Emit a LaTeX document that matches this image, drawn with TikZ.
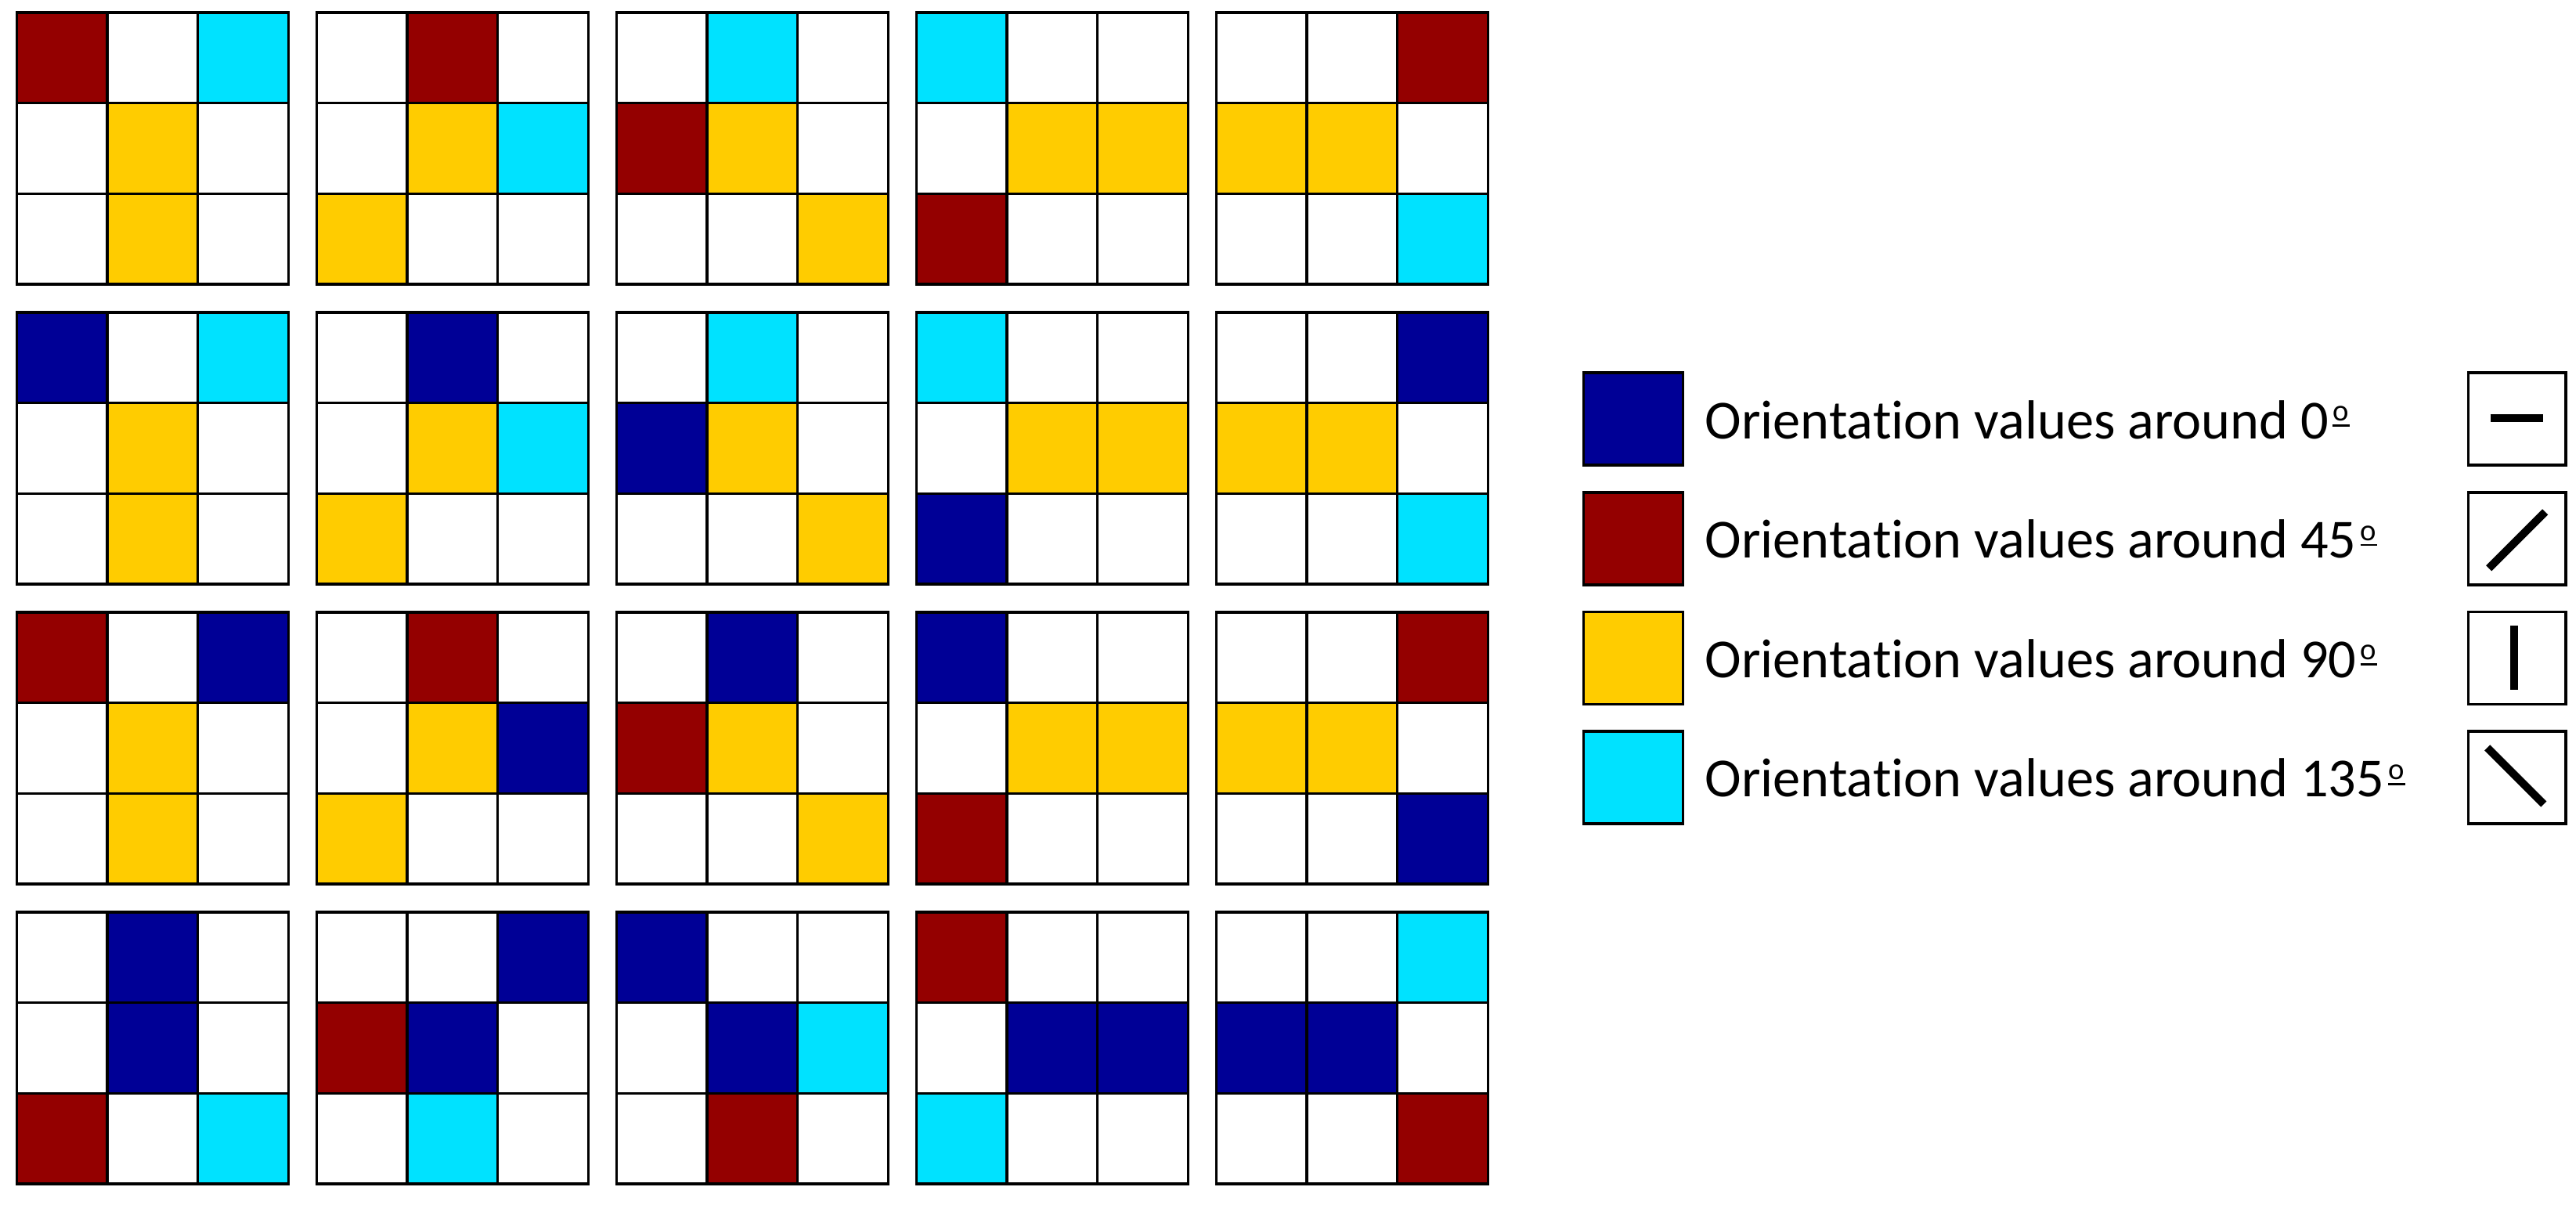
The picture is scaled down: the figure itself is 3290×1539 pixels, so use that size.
\documentclass[tikz,border=0pt]{standalone}
\usepackage{fontspec}
\setmainfont[Ligatures=NoCommon]{Carlito}
\definecolor{cR}{RGB}{148,0,0}
\definecolor{cB}{RGB}{0,0,150}
\definecolor{cY}{RGB}{255,204,0}
\definecolor{cC}{RGB}{0,226,255}
\definecolor{cW}{RGB}{255,255,255}
\newcommand\ordm{\kern0.07em\rlap{\rule[4.3pt]{6.2pt}{0.8pt}}\raisebox{6.4pt}{\fontsize{11}{11}\selectfont o}}
\begin{document}
\begin{tikzpicture}[x=0.01cm,y=-0.01cm,
  cell/.style={rectangle,draw=black,line width=0.035cm,minimum width=1.157cm,minimum height=1.157cm,inner sep=0pt,outer sep=0pt},
  legsq/.style={rectangle,draw=black,line width=0.035cm,minimum width=1.266cm,minimum height=1.18cm,inner sep=0pt,outer sep=0pt},
  symbox/.style={rectangle,draw=black,line width=0.035cm,fill=white,minimum width=1.24cm,minimum height=1.18cm,inner sep=0pt,outer sep=0pt},
  legtxt/.style={anchor=base west,inner sep=0pt,font=\fontsize{20}{24}\selectfont},
  symline/.style={line width=0.1cm,line cap=butt,draw=black}]
\useasboundingbox[fill=white] (0,0) rectangle (3290,1539);
\foreach \gr/\gc/\cells in {
 0/0/{R,W,C,W,Y,W,W,Y,W},
 0/1/{W,R,W,W,Y,C,Y,W,W},
 0/2/{W,C,W,R,Y,W,W,W,Y},
 0/3/{C,W,W,W,Y,Y,R,W,W},
 0/4/{W,W,R,Y,Y,W,W,W,C},
 1/0/{B,W,C,W,Y,W,W,Y,W},
 1/1/{W,B,W,W,Y,C,Y,W,W},
 1/2/{W,C,W,B,Y,W,W,W,Y},
 1/3/{C,W,W,W,Y,Y,B,W,W},
 1/4/{W,W,B,Y,Y,W,W,W,C},
 2/0/{R,W,B,W,Y,W,W,Y,W},
 2/1/{W,R,W,W,Y,B,Y,W,W},
 2/2/{W,B,W,R,Y,W,W,W,Y},
 2/3/{B,W,W,W,Y,Y,R,W,W},
 2/4/{W,W,R,Y,Y,W,W,W,B},
 3/0/{W,B,W,W,B,W,R,W,C},
 3/1/{W,W,B,R,B,W,W,C,W},
 3/2/{B,W,W,W,B,C,W,R,W},
 3/3/{R,W,W,W,B,B,C,W,W},
 3/4/{W,W,C,B,B,W,W,W,R}}{
  \foreach \col [count=\k from 0] in \cells {
    \pgfmathtruncatemacro\ii{\k/3}
    \pgfmathtruncatemacro\jj{mod(\k,3)}
    \node[cell,fill=c\col] (g\gr\gc-\k) at ({21.3+383*\gc+115.7*(\jj+0.5)},{16+383*\gr+115.7*(\ii+0.5)}) {};
  }
}
\foreach \k/\c/\val in {0/B/0,1/R/45,2/Y/90,3/C/135}{
  \node[legsq,fill=c\c] (sq\k) at (2086,{535.2+152.6*\k}) {};
  \node[legtxt] (tx\k) at (2177,{560+152.6*\k}) {Orientation values around \val\ordm};
  \node[symbox] (sb\k) at (3214.7,{535.2+152.6*\k}) {};
}
\draw[symline] (sb0.center) ++(-34,-1) -- ++(67,0);
\draw[symline] (sb1.center) ++(-36,38) -- ++(72,-72);
\draw[symline] (sb2.center) ++(-4,-41) -- ++(0,82);
\draw[symline] (sb3.center) ++(-38,-38) -- ++(72,72);
\end{tikzpicture}
\end{document}
